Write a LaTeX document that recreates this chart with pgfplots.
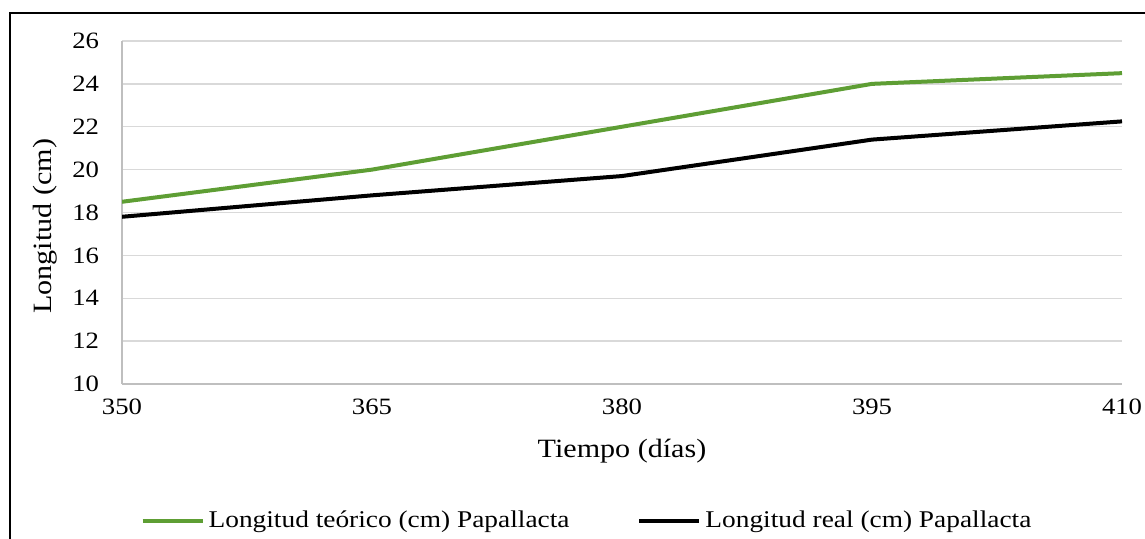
\documentclass[border=0pt]{standalone}
\usepackage{fontspec}
\setmainfont{Liberation Serif}[FakeStretch=1.14]
\usepackage{pgfplots}
\pgfplotsset{compat=1.18}
\definecolor{teorico}{RGB}{94,158,52}
\definecolor{gridgray}{RGB}{217,217,217}
\definecolor{axisgray}{RGB}{191,191,191}
\begin{document}
\begin{tikzpicture}[x=0.5pt,y=0.5pt]
\useasboundingbox (0,0) rectangle (1145,539);
% outer frame of the figure
\draw[line width=1.1pt] (10,-10) -- (10,526) -- (1160,526);
\begin{axis}[
  at={(61pt,77.5pt)}, anchor=south west,
  scale only axis, width=500pt, height=171.5pt,
  xmin=350, xmax=410, ymin=10, ymax=26,
  xtick={350,365,380,395,410},
  ytick={10,12,...,26},
  axis x line*=bottom, axis y line*=left,
  axis line style={draw=axisgray, line width=0.7pt, -},
  major tick length=0pt,
  ymajorgrids, grid style={draw=gridgray, line width=0.7pt},
  /pgf/number format/assume math mode=true,
  /pgf/number format/1000 sep={},
  tick label style={font=\fontsize{11.7}{14}\selectfont, text=black},
  yticklabel style={xshift=-8pt},
  xticklabel style={yshift=-4pt},
  xlabel={Tiempo (días)},
  ylabel={Longitud (cm)},
  label style={font=\fontsize{13.2}{15}\selectfont},
  xlabel style={at={(axis description cs:0.5,0)}, anchor=center, yshift=-33.5pt},
  ylabel style={at={(axis description cs:-0.077,0.46)}, anchor=center},
  legend columns=2,
  legend style={at={(axis description cs:0.466,0)}, anchor=center, yshift=-68.5pt,
    draw=none, fill=none, font=\fontsize{12}{14}\selectfont,
    /tikz/every even column/.append style={column sep=32pt}},
  legend image code/.code={\draw[#1] (0pt,0pt) -- (30pt,0pt);},
]
\addplot[teorico, line width=2pt] coordinates {
  (350,18.5) (365,20.0) (380,22.0) (395,24.0) (410,24.5)};
\addlegendentry{Longitud teórico (cm) Papallacta}
\addplot[black, line width=2pt] coordinates {
  (350,17.8) (365,18.8) (380,19.7) (395,21.4) (410,22.25)};
\addlegendentry{Longitud real (cm) Papallacta}
\end{axis}
\end{tikzpicture}
\end{document}
